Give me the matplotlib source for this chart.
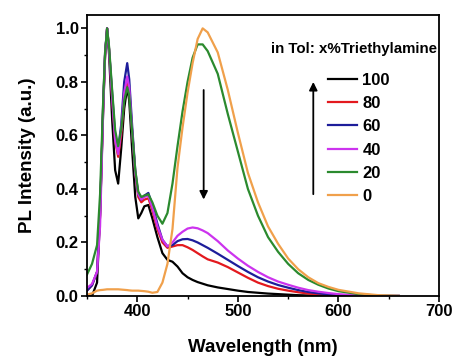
import numpy as np
import matplotlib
matplotlib.use("Agg")
import matplotlib.pyplot as plt
from matplotlib.ticker import MultipleLocator

plt.rcParams['font.family'] = ['Liberation Sans', 'DejaVu Sans']
plt.rcParams['font.weight'] = 'bold'

# wavelength grid (nm) shared by all spectra
wl = [350, 355, 360, 363, 366, 368, 370, 372, 375, 378, 381, 384, 387, 390, 392,
      395, 398, 401, 404, 407, 411, 415, 420, 425, 430, 435, 440, 445, 450, 455,
      460, 465, 470, 480, 490, 500, 510, 520, 530, 540, 550, 560, 570, 580, 590,
      600, 620, 640, 660]

pl_100 = [0.0, 0.0, 0.05, 0.3, 0.68, 0.9, 1.0, 0.9, 0.66, 0.47, 0.42, 0.55, 0.7, 0.78, 0.73,
          0.54, 0.37, 0.29, 0.31, 0.335, 0.34, 0.29, 0.22, 0.16, 0.135, 0.128, 0.11, 0.085, 0.07, 0.06,
          0.052, 0.046, 0.04, 0.032, 0.026, 0.02, 0.015, 0.012, 0.009, 0.007, 0.005, 0.003, 0.002, 0.001, 0.0,
          0.0, 0.0, 0.0, 0.0]
pl_80 = [0.02, 0.04, 0.09, 0.3, 0.7, 0.9, 1.0, 0.92, 0.74, 0.58, 0.52, 0.6, 0.74, 0.81, 0.77,
         0.61, 0.46, 0.37, 0.35, 0.36, 0.365, 0.32, 0.25, 0.2, 0.18, 0.185, 0.19, 0.19, 0.182, 0.172,
         0.16, 0.148, 0.137, 0.125, 0.108, 0.088, 0.068, 0.05, 0.037, 0.027, 0.02, 0.014, 0.009, 0.006, 0.004,
         0.002, 0.0, 0.0, 0.0]
pl_60 = [0.02, 0.04, 0.09, 0.31, 0.71, 0.91, 1.0, 0.92, 0.76, 0.6, 0.55, 0.64, 0.8, 0.87, 0.81,
         0.63, 0.47, 0.38, 0.36, 0.375, 0.385, 0.34, 0.27, 0.21, 0.185, 0.19, 0.205, 0.212, 0.213, 0.208,
         0.2, 0.19, 0.18, 0.158, 0.135, 0.112, 0.09, 0.07, 0.054, 0.041, 0.031, 0.022, 0.015, 0.01, 0.006,
         0.003, 0.0, 0.0, 0.0]
pl_40 = [0.03, 0.045, 0.09, 0.26, 0.68, 0.9, 1.0, 0.92, 0.74, 0.58, 0.53, 0.62, 0.76, 0.82, 0.78,
         0.61, 0.46, 0.38, 0.36, 0.37, 0.375, 0.33, 0.26, 0.21, 0.185, 0.2, 0.225, 0.24, 0.252, 0.256,
         0.253, 0.245, 0.235, 0.205, 0.17, 0.14, 0.113, 0.09, 0.07, 0.054, 0.042, 0.031, 0.022, 0.016, 0.011,
         0.007, 0.002, 0.0, 0.0]
pl_20 = [0.08, 0.12, 0.19, 0.38, 0.72, 0.91, 1.0, 0.93, 0.77, 0.62, 0.56, 0.62, 0.73, 0.78, 0.75,
         0.61, 0.47, 0.39, 0.37, 0.375, 0.38, 0.35, 0.3, 0.27, 0.31, 0.42, 0.56, 0.69, 0.8, 0.89,
         0.94, 0.94, 0.915, 0.83, 0.68, 0.54, 0.4, 0.3, 0.22, 0.165, 0.12, 0.085, 0.06, 0.042, 0.028,
         0.018, 0.007, 0.001, 0.0]
pl_0 = [0.005, 0.01, 0.02, 0.022, 0.023, 0.024, 0.025, 0.025, 0.025, 0.025, 0.025, 0.024, 0.023, 0.022, 0.021,
        0.02, 0.02, 0.02, 0.019, 0.018, 0.016, 0.012, 0.015, 0.05, 0.12, 0.25, 0.48, 0.63, 0.76, 0.87,
        0.96, 1.0, 0.985, 0.91, 0.77, 0.61, 0.46, 0.35, 0.26, 0.195, 0.14, 0.1, 0.07, 0.048, 0.034,
        0.023, 0.01, 0.003, 0.0]

labels = ["100", "80", "60", "40", "20", "0"]
colors = ["#000000", "#e3191e", "#1d1d9a", "#cc33ee", "#2b8a2e", "#f0a04b"]
series = [pl_100, pl_80, pl_60, pl_40, pl_20, pl_0]

fig = plt.figure(figsize=(4.54, 3.58), dpi=100)
ax = fig.add_axes([0.1916, 0.1732, 0.7754, 0.785])

for y, c, lab in zip(series, colors, labels):
    ax.plot(wl, y, color=c, lw=1.6, label=lab)

ax.set_xlim(350, 700)
ax.set_ylim(0, 1.05)
ax.xaxis.set_minor_locator(MultipleLocator(50))
ax.yaxis.set_major_locator(MultipleLocator(0.2))
ax.yaxis.set_minor_locator(MultipleLocator(0.1))
ax.set_xticks([400, 500, 600, 700])
ax.set_yticklabels(["%.1f" % v for v in ax.get_yticks()])
ax.tick_params(which='major', direction='out', length=4, width=1.2, labelsize=12, pad=2)
ax.tick_params(which='minor', direction='out', length=2.5, width=1.0)
for s in ax.spines.values():
    s.set_linewidth(1.3)

ax.set_xlabel("Wavelength (nm)", fontsize=13.5, fontweight='bold', labelpad=14)
ax.set_ylabel("PL Intensity (a.u.)", fontsize=13.5, fontweight='bold', labelpad=14)

ax.text(0.995, 0.88, "in Tol: x%Triethylamine", transform=ax.transAxes,
        ha='right', va='center', fontsize=10.8, fontweight='bold')
ax.legend(loc='upper left', bbox_to_anchor=(0.685, 0.795), frameon=False,
          borderaxespad=0, borderpad=0,
          handlelength=1.75, handletextpad=0.3, labelspacing=0.5,
          prop={'weight': 'bold', 'size': 12})

# arrows
ax.annotate("", xy=(575, 0.81), xytext=(575, 0.37),
            arrowprops=dict(arrowstyle='-|>', color='black', lw=1.3, mutation_scale=12))
ax.annotate("", xy=(466, 0.35), xytext=(466, 0.78),
            arrowprops=dict(arrowstyle='-|>', color='black', lw=1.3, mutation_scale=12))

fig.savefig("out.png", dpi=100)
